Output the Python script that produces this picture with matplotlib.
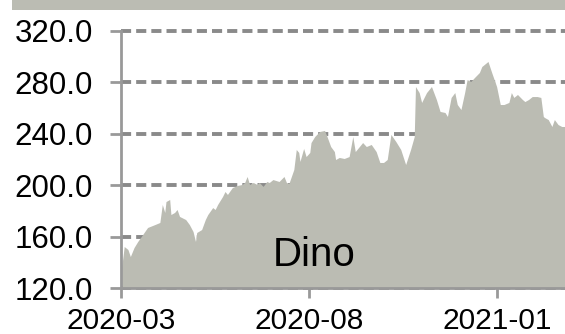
import pandas as pd
import matplotlib
matplotlib.use("Agg")
import matplotlib.pyplot as plt
import matplotlib.dates as mdates
from matplotlib.patches import Rectangle

plt.rcParams['font.family'] = ['Liberation Sans', 'DejaVu Sans']

# Dino share price
dates = [
    "2020-03-02", "2020-03-04", "2020-03-07", "2020-03-09", "2020-03-12", "2020-03-15",
    "2020-03-19", "2020-03-23", "2020-03-29", "2020-04-02", "2020-04-04", "2020-04-06",
    "2020-04-07", "2020-04-10", "2020-04-11", "2020-04-14", "2020-04-16", "2020-04-18",
    "2020-04-23", "2020-04-26", "2020-04-29", "2020-05-01", "2020-05-02", "2020-05-06",
    "2020-05-09", "2020-05-11", "2020-05-15", "2020-05-17", "2020-05-19", "2020-05-23",
    "2020-05-25", "2020-05-27", "2020-05-31", "2020-06-02", "2020-06-04", "2020-06-08",
    "2020-06-10", "2020-06-12", "2020-06-14", "2020-06-17", "2020-06-20", "2020-06-22",
    "2020-06-25", "2020-06-28", "2020-06-30", "2020-07-03", "2020-07-08", "2020-07-12",
    "2020-07-14", "2020-07-16", "2020-07-20", "2020-07-22", "2020-07-24", "2020-07-25",
    "2020-07-28", "2020-07-30", "2020-08-02", "2020-08-03", "2020-08-06", "2020-08-10",
    "2020-08-14", "2020-08-16", "2020-08-19", "2020-08-22", "2020-08-23", "2020-08-26",
    "2020-08-30", "2020-09-03", "2020-09-06", "2020-09-08", "2020-09-14", "2020-09-17",
    "2020-09-21", "2020-09-25", "2020-09-28", "2020-10-01", "2020-10-04", "2020-10-07",
    "2020-10-11", "2020-10-15", "2020-10-19", "2020-10-23", "2020-10-26", "2020-10-27",
    "2020-10-30", "2020-11-01", "2020-11-03", "2020-11-05", "2020-11-09", "2020-11-13",
    "2020-11-16", "2020-11-20", "2020-11-22", "2020-11-25", "2020-11-28", "2020-11-30",
    "2020-12-03", "2020-12-06", "2020-12-08", "2020-12-11", "2020-12-14", "2020-12-18",
    "2020-12-20", "2020-12-25", "2020-12-28", "2021-01-01", "2021-01-04", "2021-01-07",
    "2021-01-11", "2021-01-13", "2021-01-15", "2021-01-18", "2021-01-22", "2021-01-24",
    "2021-01-27", "2021-01-30", "2021-02-03", "2021-02-06", "2021-02-08", "2021-02-09",
    "2021-02-12", "2021-02-15", "2021-02-17", "2021-02-20", "2021-02-23", "2021-02-26",
]
prices = [
    136.3, 151.9, 149.6, 144.1, 151.1, 155.8,
    161.2, 166.7, 169.0, 170.6, 184.6, 178.4,
    186.9, 188.5, 176.8, 178.4, 180.7, 175.3,
    172.9, 169.0, 163.6, 155.8, 162.8, 165.1,
    172.9, 176.8, 182.2, 180.7, 184.6, 190.8,
    194.7, 192.4, 197.8, 198.6, 199.4, 200.2,
    201.7, 206.4, 200.2, 201.7, 200.2, 201.7,
    198.6, 202.5, 201.7, 204.0, 202.5, 206.4,
    201.7, 200.9, 211.8, 227.4, 225.1, 218.1,
    228.2, 221.9, 225.1, 232.8, 237.5, 241.4,
    242.2, 237.5, 229.7, 225.8, 219.6, 221.2,
    220.4, 221.9, 237.5, 225.8, 232.8, 229.7,
    231.3, 225.8, 217.3, 217.3, 219.6, 239.1,
    233.6, 227.4, 215.7, 227.4, 237.5, 276.4,
    271.7, 264.0, 267.9, 271.7, 276.4, 266.3,
    257.0, 256.2, 253.1, 267.9, 271.7, 262.4,
    258.5, 271.7, 281.8, 280.3, 283.4, 287.3,
    292.0, 295.9, 287.3, 276.4, 262.4, 262.4,
    264.0, 271.7, 267.9, 270.2, 266.3, 264.7,
    266.3, 268.6, 268.6, 267.9, 253.1, 252.3,
    250.7, 245.3, 250.7, 246.8, 245.3, 245.3,
]
yticks = [120, 160, 200, 240, 280, 320]
xticks = ["2020-03-01", "2020-08-01", "2021-01-01"]
label = "Dino"

x = pd.to_datetime(dates)
fill_col = "#bbbcb3"

fig = plt.figure(figsize=(5.65, 3.34), dpi=100)
# grey band along the top
fig.patches.append(Rectangle((0.021, 0.970), 0.98, 0.031, transform=fig.transFigure,
                             facecolor=fill_col, edgecolor="none"))

ax = fig.add_axes([0.2142, 0.1377, 0.7858, 0.7695])
ax.fill_between(x, prices, 0, color=fill_col, linewidth=0, zorder=2)

ax.set_ylim(120, 320)
ax.set_xlim(pd.Timestamp("2020-03-01"), pd.Timestamp("2021-02-25 06:00"))
ax.set_yticks(yticks)
ax.set_yticklabels([f"{v:.1f}" for v in yticks])
ax.set_xticks(pd.to_datetime(xticks))
ax.xaxis.set_major_formatter(mdates.DateFormatter("%Y-%m"))

ax.grid(axis="y", color="#8a8a8a", linestyle=(0, (2.6, 1.3)), linewidth=2.8, zorder=1)
ax.set_axisbelow(True)
for gl in ax.get_ygridlines():
    gl.set_clip_on(False)

for s in ["top", "right"]:
    ax.spines[s].set_visible(False)
for s in ["left", "bottom"]:
    ax.spines[s].set_color("#999999")
    ax.spines[s].set_linewidth(2)
    ax.spines[s].set_zorder(3)

ax.tick_params(axis="y", length=8, width=2, color="#999999", pad=12, labelsize=22.5)
ax.tick_params(axis="x", length=7, width=2, color="#999999", pad=6.5, labelsize=21.5)

ax.text(0.4347, 0.0856, label, transform=ax.transAxes, ha="center", va="baseline",
        fontsize=29, color="black", zorder=4)

fig.savefig("out.png", dpi=100)
